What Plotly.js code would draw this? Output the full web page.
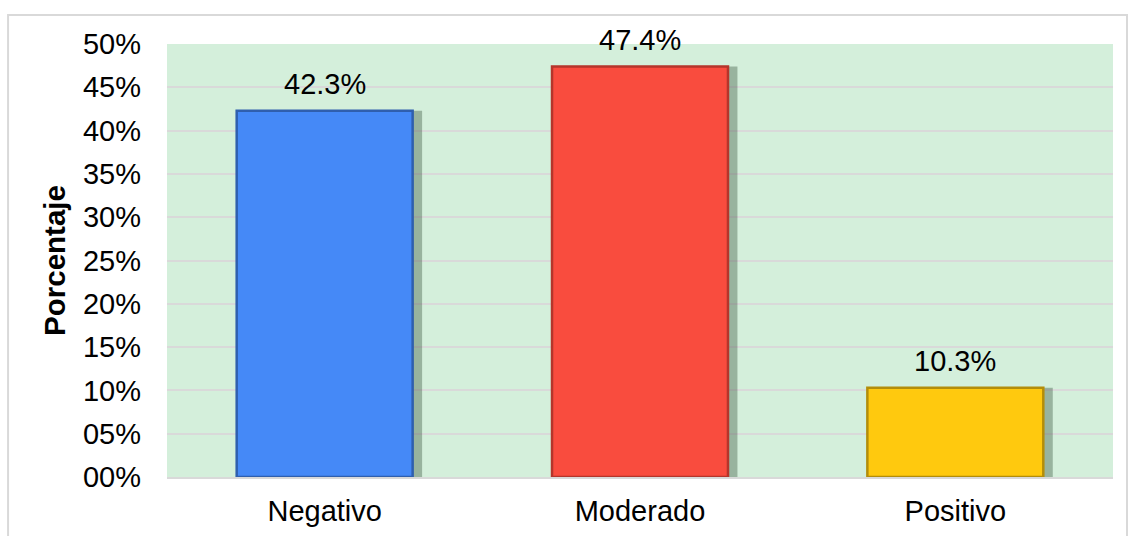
<!DOCTYPE html>
<html>
<head>
<meta charset="utf-8">
<script src="https://cdn.plot.ly/plotly-3.0.1.min.js"></script>
<style>
html,body{margin:0;padding:0;background:#fff;}
#chart{width:1128px;height:536px;}
</style>
</head>
<body>
<div id="chart"></div>
<script>
const categories = ["Negativo", "Moderado", "Positivo"];
const values = [42.3, 47.4, 10.3];
const labels = ["42.3%", "47.4%", "10.3%"];
const barColors = ["#4589f7", "#f94c3e", "#ffc90e"];
const edgeColors = ["#2f5fae", "#b5352b", "#b38d0a"];
const tickVals = [0, 5, 10, 15, 20, 25, 30, 35, 40, 45, 50];
const tickText = ["00%", "05%", "10%", "15%", "20%", "25%", "30%", "35%", "40%", "45%", "50%"];

const font = "Liberation Sans, Arial, sans-serif";
const barWidth = 0.558;

const shadow = {
  type: "bar",
  x: categories,
  y: values,
  width: barWidth,
  offset: -barWidth / 2 + 0.03,
  marker: {color: "rgba(40,70,45,0.35)", line: {width: 0}},
  hoverinfo: "skip",
  showlegend: false
};

const bars = {
  type: "bar",
  x: categories,
  y: values,
  width: barWidth,
  marker: {color: barColors, line: {color: edgeColors, width: 2.5}},
  showlegend: false
};

const annotations = categories.map((c, i) => ({
  x: c, y: values[i], xref: "x", yref: "y",
  text: labels[i], showarrow: false,
  yanchor: "bottom", yshift: 9,
  font: {family: font, size: 29, color: "#000"}
}));

const layout = {
  width: 1128,
  height: 536,
  margin: {l: 167, r: 15, t: 44, b: 59},
  paper_bgcolor: "#ffffff",
  plot_bgcolor: "#d4efdb",
  barmode: "overlay",
  font: {family: font, color: "#000"},
  xaxis: {
    type: "category",
    tickfont: {family: font, size: 29, color: "#000"},
    showgrid: false,
    zeroline: false,
    showline: true,
    linecolor: "#d9d9d9",
    linewidth: 2,
    ticks: "",
    ticklabelstandoff: 7
  },
  yaxis: {
    range: [0, 50],
    tickvals: tickVals,
    ticktext: tickText,
    tickfont: {family: font, size: 29, color: "#000"},
    showgrid: true,
    gridcolor: "#d9d9d9",
    gridwidth: 2,
    zeroline: false,
    showline: false,
    ticks: "",
    ticklabelstandoff: 25,
    title: {text: "<b>Porcentaje</b>", font: {family: font, size: 29.5, color: "#000"}, standoff: 8}
  },
  annotations: annotations,
  shapes: [{
    type: "rect", xref: "paper", yref: "paper",
    x0: -0.168, x1: 1.0148, y0: -0.3, y1: 1.067,
    line: {color: "#d9d9d9", width: 2}, fillcolor: "rgba(0,0,0,0)", layer: "below"
  }]
};

Plotly.newPlot("chart", [shadow, bars], layout, {displayModeBar: false, staticPlot: true});
</script>
</body>
</html>
